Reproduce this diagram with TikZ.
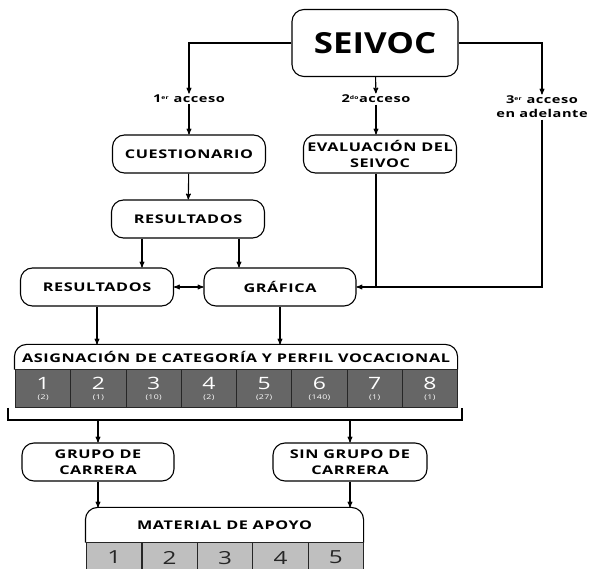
\documentclass[tikz,border=0pt]{standalone}
\usepackage{fontspec}
\setmainfont{Open Sans}[FakeStretch=1.35,LetterSpace=5]
\newfontfamily\titlefont{Open Sans}[FakeStretch=1.2]
\usepackage{tikz}
\usetikzlibrary{arrows,positioning}

\begin{document}
\begin{tikzpicture}[x=1pt,y=-1pt,>=stealth',line width=1.1pt,
	box/.style={draw,rounded corners=12pt,minimum height=38pt,align=center,
		font=\bfseries\fontsize{12}{15.5}\selectfont},
	lbl/.style={align=center,inner sep=1pt,font=\bfseries\fontsize{10.8}{14}\selectfont},
	catcell/.style={draw=black!85,fill=black!60,text=white,anchor=north west,
		minimum width=55.25pt,minimum height=38pt,inner sep=0pt,align=center},
	matcell/.style={draw=black!85,fill=black!25,text=black!85,anchor=north west,
		minimum width=55.4pt,minimum height=32pt,inner sep=0pt},
	]
	\useasboundingbox (0,0) rectangle (590,569);

	\node[box,minimum width=166pt,minimum height=67pt,font=\titlefont\bfseries\fontsize{29}{30}\selectfont] (seivoc) at (375,43) {SEIVOC};
	\node[lbl] (acc1) at (189,99) {1{\scriptsize\textsuperscript{er}} acceso};
	\node[lbl] (acc2) at (376,99) {2{\scriptsize\textsuperscript{do}}acceso};
	\node[lbl] (acc3) at (542,107) {3{\scriptsize\textsuperscript{er}} acceso\\en adelante};

	\node[box,minimum width=153pt] (cuest) at (189,154) {CUESTIONARIO};
	\node[box,minimum width=153pt] (eval) at (380,154) {EVALUACIÓN DEL\\SEIVOC};
	\node[box,minimum width=153pt] (res1) at (188,219) {RESULTADOS};
	\node[box,minimum width=153pt] (res2) at (97,287) {RESULTADOS};
	\node[box,minimum width=152pt] (graf) at (280,287) {GRÁFICA};

	\draw[->] (seivoc.west) -| (acc1.north);
	\draw[->] (seivoc.east) -| (acc3.north);
	\draw[->] (acc3.south) |- (graf.east);
	\draw (eval.south -| acc2) -- (acc2 |- graf.east);

	\path[->]
	(seivoc) edge (acc2)
	(acc1) edge (acc1 |- cuest.north)
	(acc2) edge (acc2 |- eval.north)
	(cuest) edge (res1)
	(res2) edge[<->] (graf)
	;
	\draw[->] (res1.south) ++(-46pt,0) coordinate (r1a) -- (r1a |- res2.north);
	\draw[->] (res1.south) ++(51pt,0) coordinate (r1b) -- (r1b |- graf.north);

	% asignacion de categoria
	\node[minimum width=442pt,minimum height=24pt,inner sep=0pt,
		font=\bfseries\fontsize{12}{13}\selectfont] (asig) at (236,357) {ASIGNACIÓN DE CATEGORÍA Y PERFIL VOCACIONAL};
	\draw[rounded corners=12pt] (asig.south west) -- (asig.north west) -- (asig.north east) -- (asig.south east);
	\foreach \n/\c [count=\i] in {1/2,2/1,3/10,4/2,5/27,6/140,7/1,8/1}
		\node[catcell] (cat\i) at ({15+(\i-1)*55.25},369)
			{{\fontsize{17}{17}\selectfont\n}\\[-2pt]{\fontsize{6.5}{7}\selectfont(\c)}};

	\draw[->] (res2) -- (res2 |- asig.north);
	\draw[->] (graf) -- (graf |- asig.north);

	\coordinate (brL) at (8,408);
	\coordinate (brR) at (462,408);
	\draw (brL) -- ++(0,12) coordinate (brace) -| (brR);

	\node[box,minimum width=152pt] (grupo) at (98,462) {GRUPO DE\\CARRERA};
	\node[box,minimum width=154pt] (singrupo) at (350,462) {SIN GRUPO DE\\CARRERA};
	\draw[->] (grupo |- brace) -- (grupo);
	\draw[->] (singrupo |- brace) -- (singrupo);

	% material de apoyo
	\node[minimum width=277pt,minimum height=34pt,inner sep=0pt,
		font=\bfseries\fontsize{12}{13}\selectfont] (mat) at (224.5,525) {MATERIAL DE APOYO};
	\draw[rounded corners=12pt] (mat.south west) -- (mat.north west) -- (mat.north east) -- (mat.south east);
	\foreach \n in {1,...,5}
		\node[matcell,font=\fontsize{18}{18}\selectfont] (mat\n) at ({86+(\n-1)*55.4},542) {\raisebox{2pt}{\n}};

	\draw[->] (grupo) -- (grupo |- mat.north);
	\draw[->] (singrupo) -- (singrupo |- mat.north);
\end{tikzpicture}
\end{document}
